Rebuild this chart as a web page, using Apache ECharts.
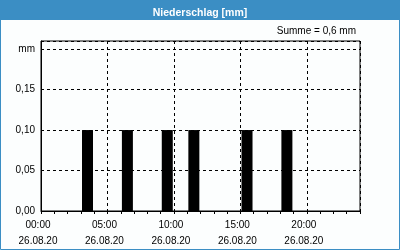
<!DOCTYPE html>
<html><head><meta charset="utf-8">
<script src="https://cdn.jsdelivr.net/npm/echarts@6/dist/echarts.min.js"></script>
<style>html,body{margin:0;padding:0;background:#fff}#c{width:400px;height:250px}</style>
</head><body><div id="c"></div>
<script>
var titleText = 'Niederschlag [mm]';
var sumText = 'Summe = 0,6 mm';
var dateLabel = '26.08.20';
var hours = Array.from({length: 24}, function (_, i) { return String(i); });
var rainHours = [3, 6, 9, 11, 15, 18];
var rainValues = [0.1, 0.1, 0.1, 0.1, 0.1, 0.1];
var yTicks = [0, 0.05, 0.10, 0.15, 0.20];
var yMax = 0.21;

var barData = hours.map(function () { return 0; });
rainHours.forEach(function (h, i) { barData[h] = rainValues[i]; });

var FONT = 'Liberation Sans';
var blue = '#3b8ec4';
var chart = echarts.init(document.getElementById('c'), null, {renderer: 'canvas'});
function pad(n) { return (n < 10 ? '0' : '') + n; }
chart.setOption({
  animation: false,
  backgroundColor: '#fcfefe',
  title: {
    text: titleText, left: 'center', top: 3,
    textStyle: {color: '#fff', fontFamily: FONT, fontWeight: 'bold', fontSize: 10.5}
  },
  graphic: [
    {type: 'rect', z: -1, shape: {x: 0, y: 0, width: 400, height: 20}, style: {fill: blue}},
    {type: 'rect', z: -1, shape: {x: 0.5, y: 0.5, width: 399, height: 249}, style: {fill: null, stroke: blue, lineWidth: 1}},
    {type: 'text', x: 356, y: 31, style: {text: sumText, textAlign: 'right', textVerticalAlign: 'middle', font: '10px ' + FONT, fill: '#000'}}
  ],
  grid: {left: 41, right: 40, top: 41, bottom: 39, show: true, borderColor: '#000', borderWidth: 1, backgroundColor: 'transparent'},
  xAxis: [
    {
      type: 'value', min: 0, max: 24, interval: 1,
      axisLine: {show: true, lineStyle: {color: '#000', width: 1}},
      axisTick: {show: true, length: 3, lineStyle: {color: '#000'}},
      splitLine: {show: false},
      axisLabel: {
        show: true, margin: 6, fontFamily: FONT, fontSize: 10, color: '#000', lineHeight: 16,
        padding: [0, 6, 0, 0],
        formatter: function (v) { return v % 5 === 0 && v < 24 ? pad(v) + ':00\n' + dateLabel : ''; }
      }
    },
    {
      type: 'value', min: 0, max: 24, interval: 5,
      axisLine: {show: false}, axisTick: {show: false}, axisLabel: {show: false},
      splitLine: {show: true, lineStyle: {color: '#000', type: [3, 3], width: 1}}
    },
    {
      type: 'category', data: hours, show: false, boundaryGap: true
    }
  ],
  yAxis: {
    type: 'value', min: 0, max: yMax, interval: 0.05,
    axisLine: {show: true, lineStyle: {color: '#000'}},
    axisTick: {show: false},
    splitLine: {show: true, lineStyle: {color: '#000', type: [3, 3], width: 1}},
    axisLabel: {
      margin: 6, fontFamily: FONT, fontSize: 10, color: '#000',
      formatter: function (v) {
        var idx = yTicks.findIndex(function (t) { return Math.abs(t - v) < 1e-6; });
        if (idx < 0) return '';
        if (idx === yTicks.length - 1) return 'mm';
        return v.toFixed(2).replace('.', ',');
      }
    }
  },
  series: [{
    type: 'bar', xAxisIndex: 2, data: barData, barWidth: 11,
    itemStyle: {color: '#000'}
  }]
});
</script></body></html>
